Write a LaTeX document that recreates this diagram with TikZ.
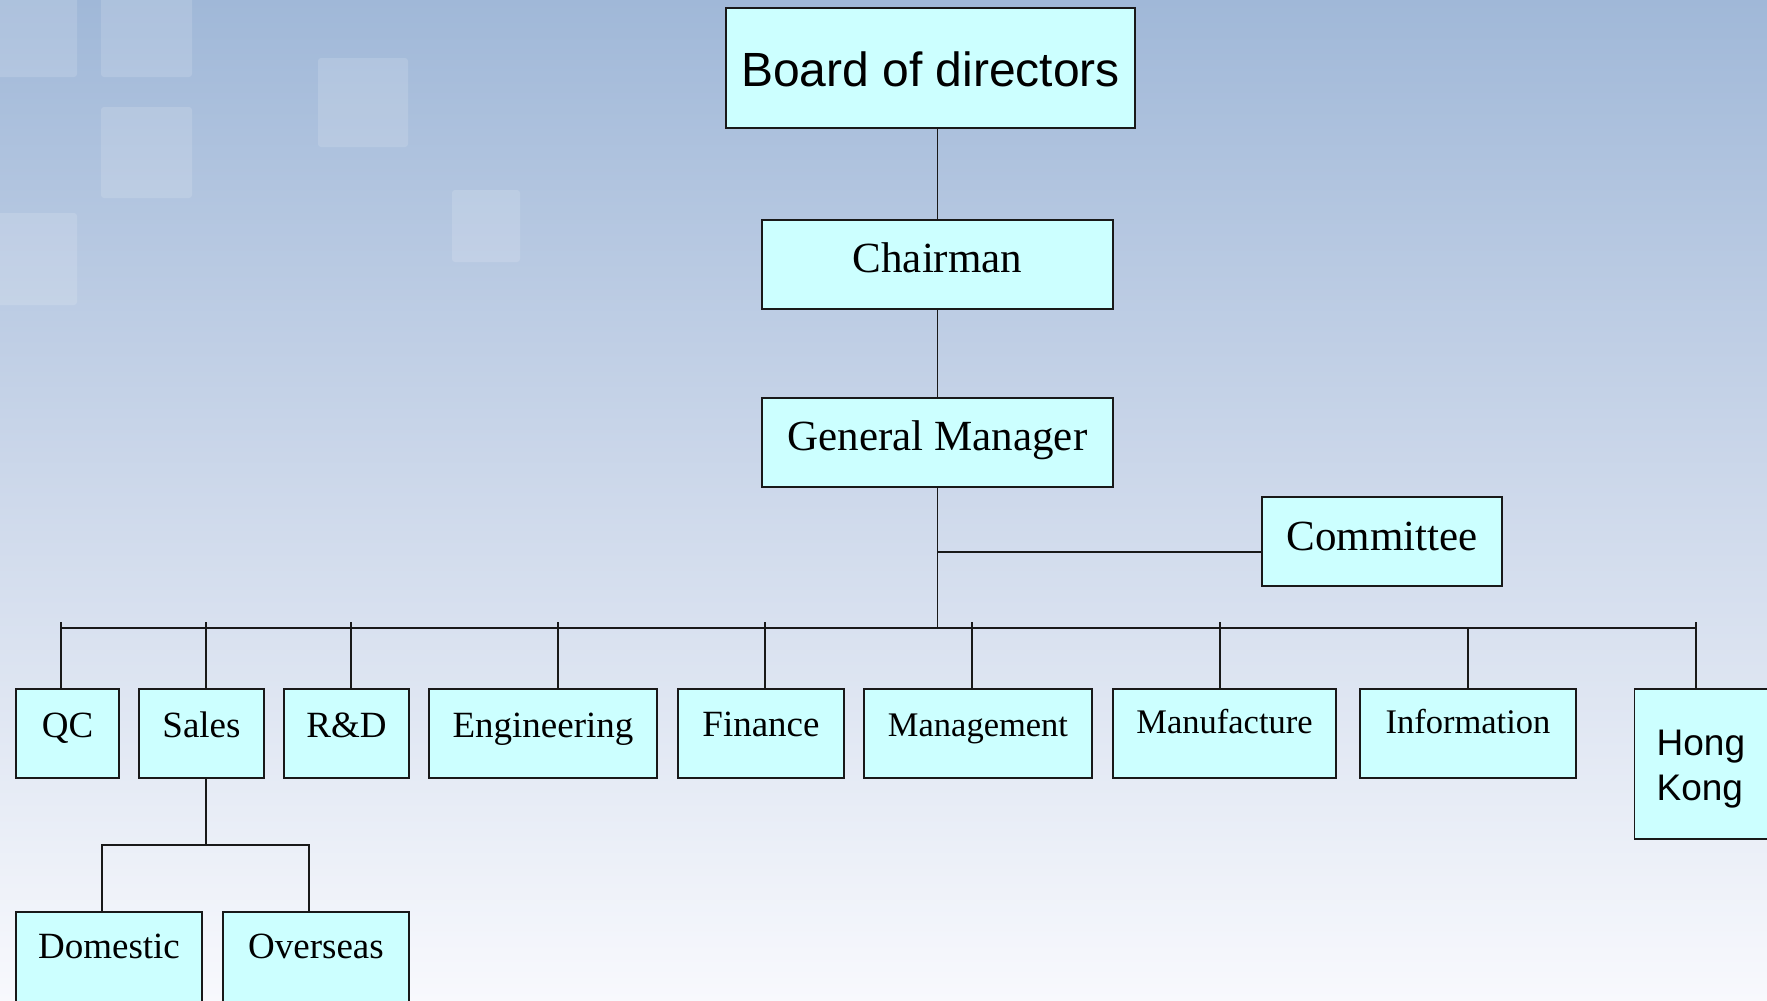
\documentclass[tikz,border=0pt]{standalone}
\usepackage{fontspec}
\setmainfont{Liberation Serif}
\newfontfamily\arialf{Liberation Sans}
\definecolor{boxc}{RGB}{204,255,255}
\definecolor{linec}{RGB}{25,25,25}
\definecolor{bgtop}{RGB}{160,184,216}
\definecolor{bgmid}{RGB}{206,217,235}
\definecolor{bgbot}{RGB}{248,249,253}
\tikzset{
  orgbox/.style={draw=linec, fill=boxc, line width=1.3pt, inner sep=0pt, anchor=base},
  bigserif/.style={font=\fontsize{43}{50}\selectfont},
  midserif/.style={font=\fontsize{37}{44}\selectfont},
  smallserif/.style={font=\fontsize{34.5}{41}\selectfont},
  conn/.style={draw=linec, line width=1.2pt},
  deco/.style={fill=white, fill opacity=0.14, rounded corners=3pt}
}
\begin{document}
\begin{tikzpicture}[x=1pt,y=-1pt]
\useasboundingbox (0,0) rectangle (1767,1001);
\clip (0,0) rectangle (1767,1001);
% background
\fill[top color=bgtop, bottom color=bgbot, middle color=bgmid] (0,0) rectangle (1767,1001);
\fill[deco] (-5,-5) rectangle (77,77);
\fill[deco] (101,-5) rectangle (192,77);
\fill[deco] (101,107) rectangle (192,198);
\fill[deco] (-5,213) rectangle (77,305);
\fill[deco] (318,58) rectangle (408,147);
\fill[deco] (452,190) rectangle (520,262);

% top boxes
\node[orgbox, minimum width=409pt, text height=78pt, text depth=42pt, font=\arialf\fontsize{48}{56}\selectfont] (board) at (930.5,86) {Board of directors};
\node[orgbox, bigserif, minimum width=351pt, text height=52pt, text depth=37pt] (chair) at (937.5,272) {Chairman};
\node[orgbox, bigserif, minimum width=351pt, text height=52pt, text depth=37pt] (gm) at (937.5,450) {General Manager};
\node[orgbox, bigserif, minimum width=240pt, text height=53pt, text depth=36pt] (comm) at (1382,550) {Committee};

% department row
\node[orgbox, midserif, minimum width=103pt, text height=48pt, text depth=41pt] (qc) at (67.5,737) {QC};
\node[orgbox, midserif, minimum width=125pt, text height=48pt, text depth=41pt] (sales) at (201.5,737) {Sales};
\node[orgbox, midserif, minimum width=125pt, text height=48pt, text depth=41pt] (rd) at (346.5,737) {R\&D};
\node[orgbox, midserif, minimum width=228pt, text height=48pt, text depth=41pt] (eng) at (543,737) {Engineering};
\node[orgbox, midserif, minimum width=166pt, text height=47pt, text depth=42pt] (fin) at (761,736) {Finance};
\node[orgbox, smallserif, minimum width=228pt, text height=47pt, text depth=42pt] (mgmt) at (978,736) {Management};
\node[orgbox, smallserif, minimum width=223pt, text height=44pt, text depth=45pt] (manu) at (1224.5,733) {Manufacture};
\node[orgbox, smallserif, minimum width=216pt, text height=44pt, text depth=45pt] (info) at (1468,733) {Information};
\node[orgbox, anchor=base west, text width=130pt, inner xsep=22pt, align=left,
      text height=66pt, text depth=84pt,
      font=\arialf\fontsize{37}{45}\selectfont] (hk) at (1634,755) {Hong\\Kong};

% sales sub-units
\node[orgbox, midserif, minimum width=186pt, text height=46pt, text depth=47pt] (dom) at (109,958) {Domestic};
\node[orgbox, midserif, minimum width=186pt, text height=46pt, text depth=47pt] (ovs) at (316,958) {Overseas};

% connectors: spine
\draw[conn] (chair.north |- board.south) -- (chair.north);
\draw[conn] (chair.south) -- (gm.north);
\coordinate (bus) at (937.5,628);
\draw[conn] (gm.south) -- (bus);
\coordinate (cj) at (937.5,552);
\draw[conn] (cj) -- (cj -| comm.west);

% bus
\coordinate (busL) at (61,628);
\coordinate (busR) at (1696,628);
\draw[conn] (busL) -- (busR);

% drops to departments
\coordinate (tqc) at (61,622);
\coordinate (tsales) at (206,622);
\coordinate (trd) at (351,622);
\coordinate (teng) at (558,622);
\coordinate (tfin) at (765,622);
\coordinate (tmgmt) at (972,622);
\coordinate (tmanu) at (1220,622);
\coordinate (tinfo) at (1468,628);
\coordinate (thk) at (1696,622);
\draw[conn] (tqc) -- (tqc |- qc.north);
\draw[conn] (tsales) -- (tsales |- sales.north);
\draw[conn] (trd) -- (trd |- rd.north);
\draw[conn] (teng) -- (teng |- eng.north);
\draw[conn] (tfin) -- (tfin |- fin.north);
\draw[conn] (tmgmt) -- (tmgmt |- mgmt.north);
\draw[conn] (tmanu) -- (tmanu |- manu.north);
\draw[conn] (tinfo) -- (tinfo |- info.north);
\draw[conn] (thk) -- (thk |- hk.north);

% sales branch
\coordinate (sj) at (206,845);
\coordinate (sjL) at (102,845);
\coordinate (sjR) at (309,845);
\draw[conn] (sj |- sales.south) -- (sj);
\draw[conn] (sjL |- dom.north) -- (sjL) -- (sjR) -- (sjR |- ovs.north);
\end{tikzpicture}
\end{document}
